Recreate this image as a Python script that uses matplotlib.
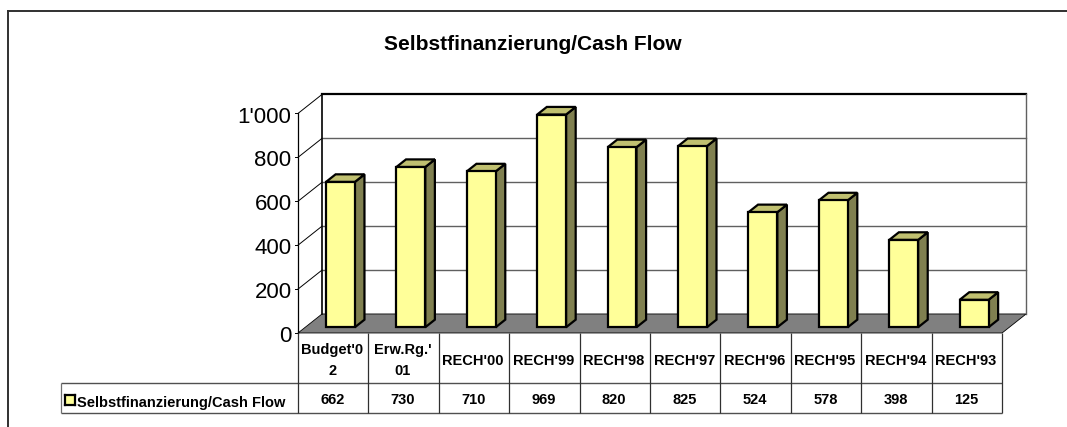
import matplotlib
matplotlib.use("Agg")
import matplotlib.pyplot as plt
from matplotlib.patches import Polygon
from matplotlib.transforms import blended_transform_factory as blend

categories = ["Budget'0\n2", "Erw.Rg.'\n01", "RECH'00", "RECH'99", "RECH'98",
              "RECH'97", "RECH'96", "RECH'95", "RECH'94", "RECH'93"]
values = [662, 730, 710, 969, 820, 825, 524, 578, 398, 125]
series_name = "Selbstfinanzierung/Cash Flow"
title = "Selbstfinanzierung/Cash Flow"
yticks = [0, 200, 400, 600, 800, 1000]
yticklabels = ["0", "200", "400", "600", "800", "1'000"]

W, H = 1067, 427
plt.rcParams['font.family'] = ['Liberation Sans', 'DejaVu Sans']
fig = plt.figure(figsize=((W + 0.1) / 100, (H + 0.1) / 100), dpi=100)
fig.patch.set_facecolor('white')

X0, X1, Y0, Y1 = 298.0, 1002.0, 333.0, 113.5
ax = fig.add_axes([X0 / W, 1 - Y0 / H, (X1 - X0) / W, (Y0 - Y1) / H])
ax.set_xlim(0, len(values))
ax.set_ylim(0, 1000)
ax.axis('off')

DX = 24.0 / ((X1 - X0) / len(values))
DY = 19.0 / ((Y0 - Y1) / 1000)


def P(cat, val, depth=0.0):
    return cat + depth * DX, val + depth * DY


def poly(pts, fc, ec='none', lw=0, z=2):
    ax.add_patch(Polygon(pts, closed=True, facecolor=fc, edgecolor=ec, linewidth=lw,
                         joinstyle='miter', clip_on=False, zorder=z))


def line(a, b, c='black', lw=0.8, z=1):
    ax.plot([a[0], b[0]], [a[1], b[1]], color=c, lw=lw, clip_on=False, zorder=z,
            solid_capstyle='projecting')


n = len(values)
poly([P(0, 0), P(n, 0), P(n, 0, 1), P(0, 0, 1)], '#808080', 'black', 0.6, 1)
for t in yticks[1:]:
    line(P(0, t), P(0, t, 1), 'black', 0.7)
    if t < 1000:
        line(P(0, t, 1), P(n, t, 1), '#606060', 1.0)
    line(P(0, t), (-3.5 / 70.4, t), 'black', 0.7)
line((-3.5 / 70.4, 0), P(0, 0), 'black', 0.7)
line(P(0, 0), P(0, 1000), 'black', 0.9)
line(P(0, 0, 1), P(0, 1000, 1), 'black', 1.2)
line(P(0, 1000, 1), P(n, 1000, 1), 'black', 1.6)
line(P(n, 0, 1), P(n, 1000, 1), '#606060', 1.0)

bar_w = 0.41
for i, v in enumerate(values):
    l = i + 0.5 - bar_w / 2
    r = l + bar_w
    d0, d1 = 0.3, 0.7
    edge = 'black'
    lw = 1.6
    poly([P(r, 0, d0), P(r, 0, d1), P(r, v, d1), P(r, v, d0)], '#808050', edge, lw, 3 + i)
    poly([P(l, v, d0), P(r, v, d0), P(r, v, d1), P(l, v, d1)], '#C0C070', edge, lw, 3 + i)
    poly([P(l, 0, d0), P(r, 0, d0), P(r, v, d0), P(l, v, d0)], '#FFFF99', edge, lw, 3 + i)

for t, s in zip(yticks, yticklabels):
    ax.annotate(s, xy=(0, t), xycoords='data', xytext=(-6.5 * 0.72, -3.5 * 0.72), textcoords='offset points',
                ha='right', va='center', fontsize=16, color='black', annotation_clip=False)

tr = blend(ax.transData, fig.transFigure)
def fy(p):
    return 1 - p / H


def tline(x0, p0, x1, p1, c='#303030', lw=0.9):
    ax.plot([x0, x1], [fy(p0), fy(p1)], transform=tr, color=c, lw=lw, clip_on=False,
            zorder=1, solid_capstyle='butt')


T1, T2 = 383.3, 412.7
L = (61 - X0) / ((X1 - X0) / n)
tline(L, T1, n, T1, '#505050', 1.0)
tline(L, T2, n, T2, '#505050', 1.0)
tline(L, T1, L, T2, '#707070')
for i in range(n + 1):
    tline(i, Y0, i, T2)
for i, (c, v) in enumerate(zip(categories, values)):
    ax.text(i + 0.5 - 0.015, fy(360.5), c, transform=tr, ha='center', va='center', fontsize=10.5,
            fontweight='bold', linespacing=1.62, clip_on=False)
    ax.text(i + 0.5 - 0.01, fy(400.4), str(v), transform=tr, ha='center', va='center', fontsize=10.5,
            fontweight='bold', clip_on=False)

ax.text((77.2 - X0) / ((X1 - X0) / n), fy(403.3), series_name, transform=tr, ha='left', va='center',
        fontsize=10.5, fontweight='bold', clip_on=False)
key = fig.add_axes([65 / W, 1 - 404.8 / H, 9.5 / W, 9.5 / H])
key.set_xticks([]); key.set_yticks([])
key.set_facecolor('#FFFF99')
for s in key.spines.values():
    s.set_linewidth(1.6)

fig.text(533 / W, 1 - 44 / H, title, ha='center', va='center', fontsize=15, fontweight='bold')

fig.add_artist(plt.Line2D([8 / W, 8 / W], [0, 1 - 11 / H], color='#303030', lw=1.4))
fig.add_artist(plt.Line2D([8 / W, 1], [1 - 11 / H, 1 - 11 / H], color='#303030', lw=1.4))

fig.savefig('out.png', dpi=100)
